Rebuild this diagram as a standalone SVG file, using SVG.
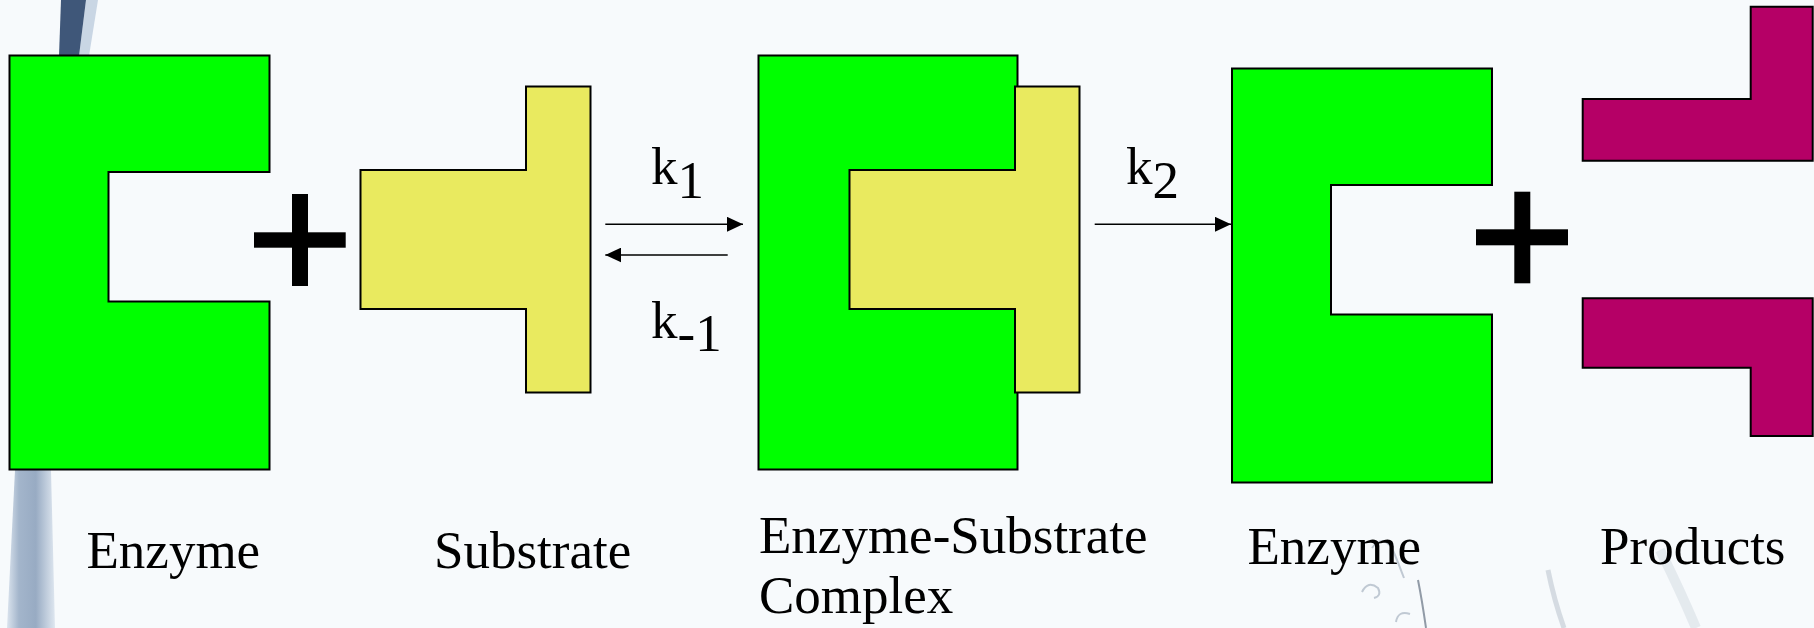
<svg xmlns="http://www.w3.org/2000/svg" width="1814" height="628" viewBox="0 0 1814 628">
  <defs>
    <style>
      .enz { fill: #00FF00; stroke: #000; stroke-width: 2; stroke-linejoin: miter; }
      .sub { fill: #E9EA5F; stroke: #000; stroke-width: 2; stroke-linejoin: miter; }
      .prod { fill: #B50066; stroke: #000; stroke-width: 2; stroke-linejoin: miter; }
      .plus { fill: #000; }
      .lbl { font-family: "Liberation Serif", "Times New Roman", serif; font-size: 53px; fill: #000; }
      .arrow { stroke: #000; stroke-width: 1.6; fill: none; marker-end: url(#head); }
    </style>
    <marker id="head" markerUnits="userSpaceOnUse" markerWidth="16" markerHeight="15" refX="16" refY="7.5" orient="auto">
      <path d="M0,0 L16,7.5 L0,15 Z" fill="#000"/>
    </marker>
    <linearGradient id="band" x1="0" y1="0" x2="1" y2="0">
      <stop offset="0" stop-color="#dbe4ee"/>
      <stop offset="0.25" stop-color="#a3b5cb"/>
      <stop offset="0.6" stop-color="#98abc3"/>
      <stop offset="1" stop-color="#dfe7f0"/>
    </linearGradient>
  </defs>

  <g id="background">
    <rect x="0" y="0" width="1814" height="628" fill="#F7FAFC"/>
    <path d="M86,0 L98,0 L89,56 L79,56 Z" fill="#C9D6E4"/>
    <path d="M61,0 L86,0 L79,56 L59,56 Z" fill="#3F5779"/>
    <path d="M15,470 L51,470 L55,628 L7,628 Z" fill="url(#band)"/>
    <g fill="none" stroke="#6f7f95" stroke-opacity="0.4" stroke-width="2">
      <path d="M1362,592 q6,-12 16,-4 q4,8 -4,10"/>
      <path d="M1396,622 q2,-12 14,-8"/>
      <path d="M1372,548 q10,-14 20,0 q6,14 12,30"/>
      <path d="M1418,580 q4,20 8,48" stroke="#2c3b52" stroke-opacity="0.5"/>
      <path d="M1548,570 q6,30 16,58" stroke-opacity="0.25" stroke-width="5"/>
      <path d="M1660,550 q20,40 36,78" stroke="#9aa8b8" stroke-opacity="0.2" stroke-width="10"/>
    </g>
  </g>

  <g id="node-enzyme">
    <path class="enz" d="M9.5,55.5 H269.5 V172 H108.5 V301.5 H269.5 V469.5 H9.5 Z"/>
    <text class="lbl" x="86.5" y="568">Enzyme</text>
  </g>

  <g id="op-plus-1">
    <rect class="plus" x="254" y="232.3" width="91.7" height="15.4"/>
    <rect class="plus" x="292" y="194" width="16" height="92"/>
  </g>

  <g id="node-substrate">
    <path class="sub" d="M526,86.5 H590.5 V392.5 H526 V309 H360.5 V170 H526 Z"/>
    <text class="lbl" x="434" y="568">Substrate</text>
  </g>

  <g id="connectors">
    <path class="arrow" d="M605.3,224.3 H743"/>
    <path class="arrow" d="M727.7,255 H605.3"/>
    <path class="arrow" d="M1094.7,224.3 H1231"/>
    <text class="lbl" x="651" y="184.3">k<tspan dy="13.4">1</tspan></text>
    <text class="lbl" x="651" y="337.7">k<tspan dy="13">-1</tspan></text>
    <text class="lbl" x="1126" y="184.3">k<tspan dy="13.4">2</tspan></text>
  </g>

  <g id="node-complex">
    <rect class="enz" x="758.5" y="55.5" width="259" height="414"/>
    <path class="sub" d="M1015,86.5 H1079.5 V392.5 H1015 V309 H849.5 V170 H1015 Z"/>
    <text class="lbl" x="759" y="553">Enzyme-Substrate</text>
    <text class="lbl" x="759" y="613">Complex</text>
  </g>

  <g id="node-enzyme-2">
    <path class="enz" d="M1232,68.5 H1492 V185 H1331 V314.5 H1492 V482.5 H1232 Z"/>
    <text class="lbl" x="1247.5" y="564">Enzyme</text>
  </g>

  <g id="op-plus-2">
    <rect class="plus" x="1476" y="229.3" width="92" height="16"/>
    <rect class="plus" x="1514.3" y="191.7" width="16" height="91.6"/>
  </g>

  <g id="node-products">
    <path class="prod" d="M1750.7,6.7 H1812.7 V160.7 H1582.7 V99 H1750.7 Z"/>
    <path class="prod" d="M1582.7,298.3 H1812.7 V436 H1750.7 V367.7 H1582.7 Z"/>
    <text class="lbl" x="1600" y="564">Products</text>
  </g>
</svg>
